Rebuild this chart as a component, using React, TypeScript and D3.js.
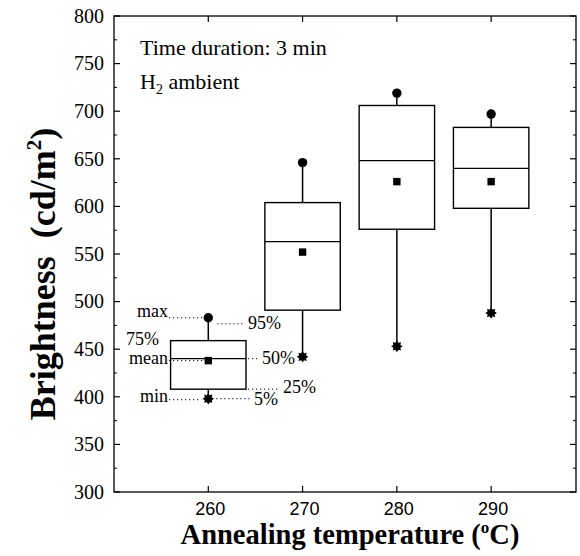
import React from 'react';
import * as d3 from 'd3';

// Brightness statistics per annealing temperature (cd/m²)
const temperatures = [260, 270, 280, 290];
const q25 = [408, 491, 576, 598];
const medians = [440, 563, 648, 640];
const q75 = [459, 604, 706, 683];
const means = [438, 552, 626, 626];
const maxima = [483, 646, 719, 697];
const minima = [398, 442, 453, 488];

const yMajorTicks = [300, 350, 400, 450, 500, 550, 600, 650, 700, 750, 800];
const yMinorTicks = [325, 375, 425, 475, 525, 575, 625, 675, 725, 775];
const xTicks = [260, 270, 280, 290];

const W = 580;
const H = 556;
const left = 114;
const right = 576;
const top = 16;
const bottom = 492;
const boxHalf = 4; // half box width in °C

const serif = '"Liberation Serif", "DejaVu Serif", serif';
const sans = '"Liberation Sans", Arial, sans-serif';

export default function App() {
  const x = d3.scaleLinear().domain([250, 299]).range([left, right]);
  const y = d3.scaleLinear().domain([300, 800]).range([bottom, top]);

  const starPath =
    d3
      .lineRadial<[number, number]>()
      .curve(d3.curveLinearClosed)(
        d3.range(16).map((i) => [(i * Math.PI) / 8, i % 2 === 0 ? 5.8 : 3.8] as [number, number])
      ) || '';

  const dotted = { stroke: '#000', strokeWidth: 1, strokeDasharray: '1.2,2.8', fill: 'none' };
  const noteFont = { fontFamily: serif, fontSize: 18, fill: '#000' };

  const cx0 = x(temperatures[0]);
  const bx0R = x(temperatures[0] + boxHalf);

  return (
    <svg
      width={W}
      height={H}
      viewBox={`0 0 ${W} ${H}`}
      style={{ position: 'absolute', left: 0, top: 0, background: '#fff' }}
    >
      <rect x={0} y={0} width={W} height={H} fill="#fff" />

      {/* frame */}
      <rect x={left} y={top} width={right - left} height={bottom - top} fill="none" stroke="#000" strokeWidth={1.3} />

      {/* y ticks, both sides, pointing inward */}
      {yMajorTicks.map((v) => (
        <g key={`ym${v}`}>
          <line x1={left} x2={left + 6} y1={y(v)} y2={y(v)} stroke="#000" strokeWidth={1.2} />
          <line x1={right} x2={right - 6} y1={y(v)} y2={y(v)} stroke="#000" strokeWidth={1.2} />
          <text x={left - 10} y={y(v)} dy="0.34em" textAnchor="end" fontFamily={serif} fontSize={20}>
            {v}
          </text>
        </g>
      ))}
      {yMinorTicks.map((v) => (
        <g key={`yn${v}`}>
          <line x1={left} x2={left + 3} y1={y(v)} y2={y(v)} stroke="#000" strokeWidth={1} />
          <line x1={right} x2={right - 3} y1={y(v)} y2={y(v)} stroke="#000" strokeWidth={1} />
        </g>
      ))}

      {/* x ticks, top and bottom */}
      {xTicks.map((t) => (
        <g key={`x${t}`}>
          <line x1={x(t)} x2={x(t)} y1={bottom} y2={bottom - 6} stroke="#000" strokeWidth={1.2} />
          <line x1={x(t)} x2={x(t)} y1={top} y2={top + 6} stroke="#000" strokeWidth={1.2} />
          <text x={x(t) + 2} y={515} textAnchor="middle" fontFamily={sans} fontSize={18}>
            {t}
          </text>
        </g>
      ))}

      {/* boxes */}
      {temperatures.map((t, i) => {
        const cx = x(t);
        const xl = x(t - boxHalf);
        const xr = x(t + boxHalf);
        return (
          <g key={`b${t}`}>
            <line x1={cx} x2={cx} y1={y(q75[i])} y2={y(maxima[i])} stroke="#000" strokeWidth={1.5} />
            <line x1={cx} x2={cx} y1={y(q25[i])} y2={y(minima[i])} stroke="#000" strokeWidth={1.5} />
            <rect
              x={xl}
              y={y(q75[i])}
              width={xr - xl}
              height={y(q25[i]) - y(q75[i])}
              fill="none"
              stroke="#000"
              strokeWidth={1.4}
            />
            <line x1={xl} x2={xr} y1={y(medians[i])} y2={y(medians[i])} stroke="#000" strokeWidth={1.3} />
            <rect x={cx - 3.7} y={y(means[i]) - 3.7} width={7.4} height={7.4} fill="#000" />
            <circle cx={cx} cy={y(maxima[i])} r={4.7} fill="#000" />
            <path d={starPath} transform={`translate(${cx},${y(minima[i])})`} fill="#000" />
          </g>
        );
      })}

      {/* annotations for the first box */}
      <g>
        <line x1={169} x2={cx0 - 6} y1={y(maxima[0])} y2={y(maxima[0])} {...dotted} />
        <text x={168} y={y(maxima[0]) - 1} textAnchor="end" {...noteFont}>max</text>
        <line x1={cx0 + 9} x2={245} y1={y(maxima[0]) + 6} y2={y(maxima[0]) + 6} {...dotted} />
        <text x={248} y={y(maxima[0]) + 11} {...noteFont}>95%</text>

        <text x={126} y={y(q75[0]) + 4} {...noteFont}>75%</text>

        <line x1={169} x2={cx0 - 5} y1={y(means[0])} y2={y(means[0])} {...dotted} />
        <text x={168} y={y(means[0]) + 3} textAnchor="end" {...noteFont}>mean</text>
        <line x1={bx0R + 2} x2={258} y1={y(medians[0])} y2={y(medians[0])} {...dotted} />
        <text x={262} y={y(medians[0]) + 5} {...noteFont}>50%</text>

        <line x1={bx0R + 2} x2={280} y1={y(q25[0])} y2={y(q25[0])} {...dotted} />
        <text x={283} y={y(q25[0]) + 4} {...noteFont}>25%</text>

        <line x1={169} x2={cx0 - 7} y1={y(minima[0]) + 1} y2={y(minima[0]) + 1} {...dotted} />
        <text x={168} y={y(minima[0]) + 3} textAnchor="end" {...noteFont}>min</text>
        <line x1={cx0 + 8} x2={250} y1={y(minima[0])} y2={y(minima[0])} {...dotted} />
        <text x={254} y={y(minima[0]) + 6} {...noteFont}>5%</text>
      </g>

      {/* conditions */}
      <text x={140} y={55} fontFamily={serif} fontSize={22}>
        Time duration: 3 min
      </text>
      <text x={140} y={89} fontFamily={serif} fontSize={22}>
        H<tspan fontSize={14} dy={5}>2</tspan>
        <tspan dy={-5}> ambient</tspan>
      </text>

      {/* axis titles */}
      <text x={350} y={544} textAnchor="middle" fontFamily={serif} fontWeight="bold" fontSize={28.5}>
        Annealing temperature (<tspan fontSize={17} dy={-11}>o</tspan>
        <tspan dy={11}>C)</tspan>
      </text>
      <text
        transform={`translate(55,274) rotate(-90)`}
        textAnchor="middle"
        fontFamily={serif}
        fontWeight="bold"
        fontSize={36}
      >
        Brightness{'\u00a0\u00a0'}(cd/m<tspan fontSize={21} dy={-14}>2</tspan>
        <tspan dy={14}>)</tspan>
      </text>
    </svg>
  );
}
